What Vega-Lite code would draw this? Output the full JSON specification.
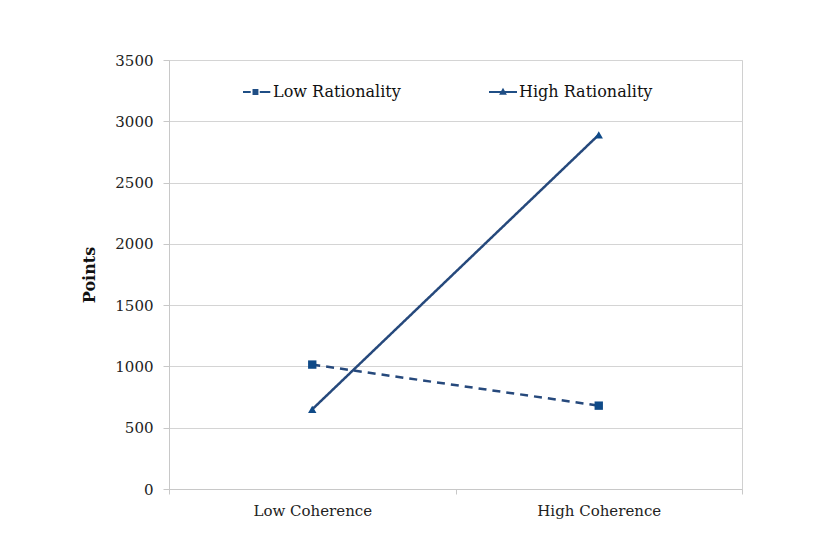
{
  "$schema": "https://vega.github.io/schema/vega-lite/v6.json",
  "autosize": {"type": "none"},
  "width": 573,
  "height": 429,
  "padding": {"left": 169, "top": 60, "right": 74, "bottom": 64},
  "background": "white",
  "data": {
    "values": [
      {"Coherence": "Low Coherence", "Rationality": "Low Rationality", "Points": 1015},
      {"Coherence": "High Coherence", "Rationality": "Low Rationality", "Points": 680},
      {"Coherence": "Low Coherence", "Rationality": "High Rationality", "Points": 650},
      {"Coherence": "High Coherence", "Rationality": "High Rationality", "Points": 2890}
    ]
  },
  "config": {
    "font": "DejaVu Serif",
    "view": {"stroke": "#d0d0d0", "strokeWidth": 1},
    "axis": {
      "labelFont": "DejaVu Serif",
      "titleFont": "DejaVu Serif",
      "labelColor": "#222",
      "titleColor": "#111",
      "domainColor": "#c8c8c8",
      "tickColor": "#c8c8c8",
      "gridColor": "#d4d4d4"
    }
  },
  "encoding": {
    "x": {
      "field": "Coherence",
      "type": "nominal",
      "sort": ["Low Coherence", "High Coherence"],
      "scale": {"type": "band", "paddingInner": 0, "paddingOuter": 0},
      "axis": {
        "title": null,
        "labelAngle": 0,
        "labelFontSize": 15,
        "labelPadding": 9,
        "tickBand": "extent",
        "tickSize": 5,
        "grid": false
      }
    },
    "y": {
      "field": "Points",
      "type": "quantitative",
      "scale": {"domain": [0, 3500], "nice": false},
      "axis": {
        "title": "Points",
        "titleFontSize": 16,
        "titleFontWeight": "bold",
        "titlePadding": 17,
        "values": [0, 500, 1000, 1500, 2000, 2500, 3000, 3500],
        "format": "d",
        "labelFontSize": 15,
        "labelPadding": 10,
        "tickSize": 6,
        "grid": true
      }
    }
  },
  "layer": [
    {
      "mark": {"type": "line", "color": "#26497c", "strokeWidth": 2.5},
      "encoding": {
        "strokeDash": {
          "field": "Rationality",
          "type": "nominal",
          "scale": {"domain": ["Low Rationality", "High Rationality"], "range": [[8, 6], [1, 0]]},
          "legend": null
        }
      }
    },
    {
      "mark": {"type": "point", "filled": true, "color": "#0f4a88", "opacity": 1, "size": 70},
      "encoding": {
        "shape": {
          "field": "Rationality",
          "type": "nominal",
          "scale": {"domain": ["Low Rationality", "High Rationality"], "range": ["square", "triangle-up"]},
          "legend": null
        }
      }
    },
    {
      "mark": {"type": "point", "filled": true, "color": "#1f4e85", "opacity": 0},
      "encoding": {
        "shape": {
          "field": "Rationality",
          "type": "nominal",
          "scale": {
            "domain": ["Low Rationality", "High Rationality"],
            "range": [
              "M-1,-0.08H-0.45V0.08H-1Z M-0.32,-0.22H0.1V0.22H-0.32Z M0.2,-0.08H0.95V0.08H0.2Z",
              "M-1,-0.08H1V0.08H-1Z M-0.28,0.2L0,-0.3L0.28,0.2Z"
            ]
          },
          "legend": {
            "title": null,
            "orient": "none",
            "direction": "horizontal",
            "legendX": 74,
            "legendY": 18,
            "symbolSize": 784,
            "symbolOpacity": 1,
            "symbolFillColor": "#1f4e85",
            "symbolStrokeWidth": 0,
            "labelFontSize": 16,
            "labelColor": "#111",
            "labelOffset": 2,
            "columnPadding": 88,
            "labelLimit": 300
          }
        }
      }
    }
  ],
  "resolve": {"scale": {"shape": "independent"}, "legend": {"shape": "independent"}}
}
